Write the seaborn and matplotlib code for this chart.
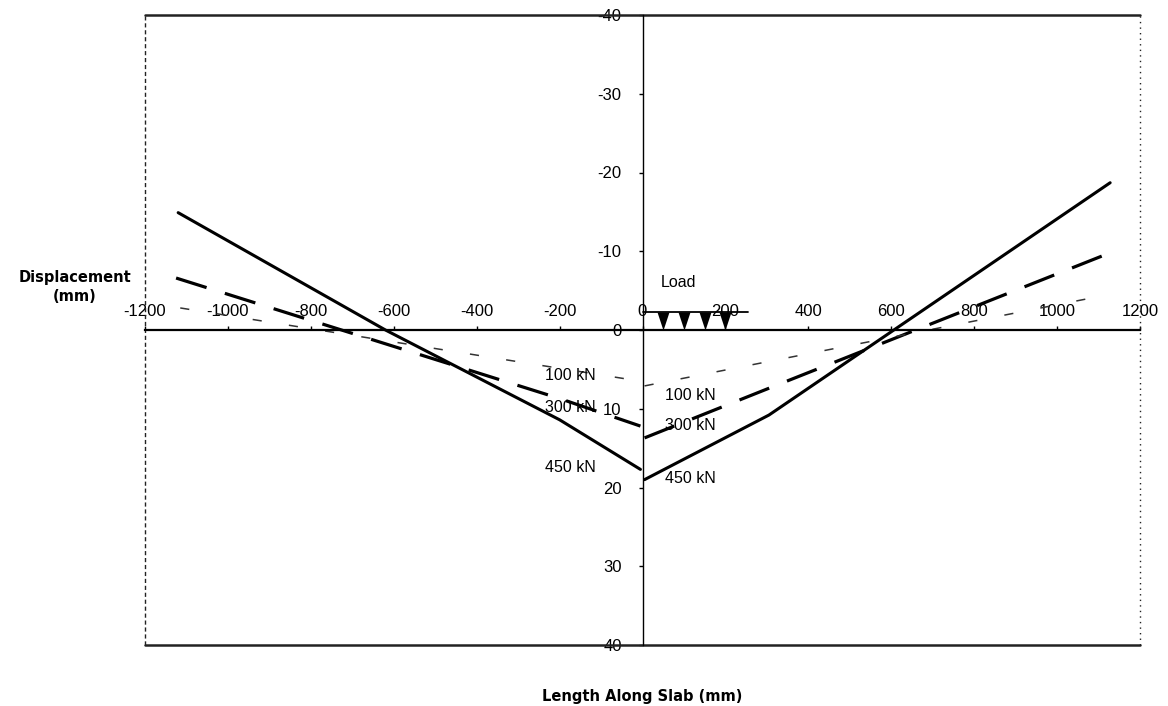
import matplotlib
matplotlib.use("Agg")
import matplotlib.pyplot as plt
import pandas as pd
import seaborn as sns

# Deflected shape of the slab under three load levels (mm); negative = upward.
# Each load level is measured separately on the left and right halves.
x_450_left = [-1120, -620, -200, -5]
y_450_left = [-14.9, 0.0, 11.4, 17.7]
x_450_right = [5, 305, 1128]
y_450_right = [19.0, 10.8, -18.7]

x_300_left = [-1125, -200, -5]
y_300_left = [-6.6, 8.7, 12.2]
x_300_right = [5, 300, 1123]
y_300_right = [13.7, 7.5, -9.7]

x_100_left = [-1115, -5]
y_100_left = [-2.8, 6.5]
x_100_right = [5, 1125]
y_100_right = [7.1, -4.5]

# Applied load (patch of point loads near mid-span)
load_x = [50, 100, 150, 200]
load_bar_x = [0, 255]
load_bar_level = -2.3

x_ticks = list(range(-1200, 1201, 200))
y_ticks = list(range(-40, 41, 10))

series_labels = {
    "left": [("100 kN", -235, 5.8), ("300 kN", -235, 9.8), ("450 kN", -235, 17.5)],
    "right": [("100 kN", 55, 8.3), ("300 kN", 55, 12.1), ("450 kN", 55, 18.8)],
}

sns.set_style("white")
plt.rcParams["font.family"] = ["Liberation Sans", "DejaVu Sans"]
plt.rcParams["axes.unicode_minus"] = False
plt.rcParams["text.color"] = "black"

W, H = 1168, 706
fig = plt.figure(figsize=(W / 100, H / 100), dpi=100)
ax = fig.add_axes([145 / W, 1 - 645 / H, 995 / W, 630 / H])

styles = {
    "450": dict(color="black", lw=2.2, linestyle="-"),
    "300": dict(color="black", lw=2.3, linestyle=(0, (10, 6))),
    "100": dict(color="#333333", lw=1.1, linestyle=(0, (6, 18))),
}

profiles = [
    ("450", x_450_left, y_450_left), ("450", x_450_right, y_450_right),
    ("300", x_300_left, y_300_left), ("300", x_300_right, y_300_right),
    ("100", x_100_left, y_100_left), ("100", x_100_right, y_100_right),
]
for key, xs, ys in profiles:
    df = pd.DataFrame({"pos": xs, "disp": ys})
    sns.lineplot(data=df, x="pos", y="disp", ax=ax, sort=False,
                 estimator=None, legend=False, **styles[key])

# load patch
bar = pd.DataFrame({"pos": load_bar_x, "disp": [load_bar_level] * 2})
sns.lineplot(data=bar, x="pos", y="disp", ax=ax, color="black", lw=1.3,
             estimator=None, legend=False)
pts = pd.DataFrame({"pos": load_x, "disp": [load_bar_level / 2] * len(load_x)})
sns.scatterplot(data=pts, x="pos", y="disp", ax=ax,
                marker=[(-0.33, 0.5), (0.33, 0.5), (0, -0.5)],
                s=170, color="black", edgecolor="black", linewidth=0, legend=False)
ax.text(43, -6.0, "Load", fontsize=11.5, ha="left", va="center")

for side, items in series_labels.items():
    for txt, xpos, ypos in items:
        ax.text(xpos, ypos, txt, fontsize=11.5, ha="left", va="center")

ax.set_xlim(-1200, 1200)
ax.set_ylim(40, -40)
ax.set_xticks(x_ticks)
ax.set_yticks(y_ticks)
ax.set_xlabel("")
ax.set_ylabel("")

for s in ("bottom", "right"):
    ax.spines[s].set_visible(False)
ax.spines["top"].set_position(("data", 0))
ax.spines["top"].set_linewidth(1.6)
ax.spines["top"].set_color("black")
ax.spines["left"].set_position(("data", 0))
ax.spines["left"].set_linewidth(1.0)
ax.spines["left"].set_color("black")
ax.xaxis.set_ticks_position("top")
ax.yaxis.set_ticks_position("left")
ax.tick_params(axis="x", direction="out", length=3, width=1, pad=5,
               labelsize=12, colors="black")
ax.tick_params(axis="y", direction="out", length=3, width=1, pad=12,
               labelsize=12, colors="black")

# plot-area frame
frame = dict(transform=ax.transAxes, clip_on=False, color="#222222")
ax.plot([0, 1], [1, 1], lw=1.8, **frame)
ax.plot([0, 1], [0, 0], lw=1.8, **frame)
ax.plot([0, 0], [0, 1], lw=1.0, linestyle=(0, (3, 2)), **frame)
ax.plot([1, 1], [0, 1], lw=1.0, linestyle=(0, (1, 3)), **frame)

fig.text(642 / W, 1 - 696 / H, "Length Along Slab (mm)", fontsize=10.5,
         fontweight="bold", family="DejaVu Sans", ha="center", va="center")
fig.text(75 / W, 1 - 287 / H, "Displacement\n(mm)", fontsize=10.5,
         fontweight="bold", family="DejaVu Sans", ha="center", va="center",
         multialignment="center", linespacing=1.3)

fig.savefig("out.png", dpi=100, facecolor="white")
